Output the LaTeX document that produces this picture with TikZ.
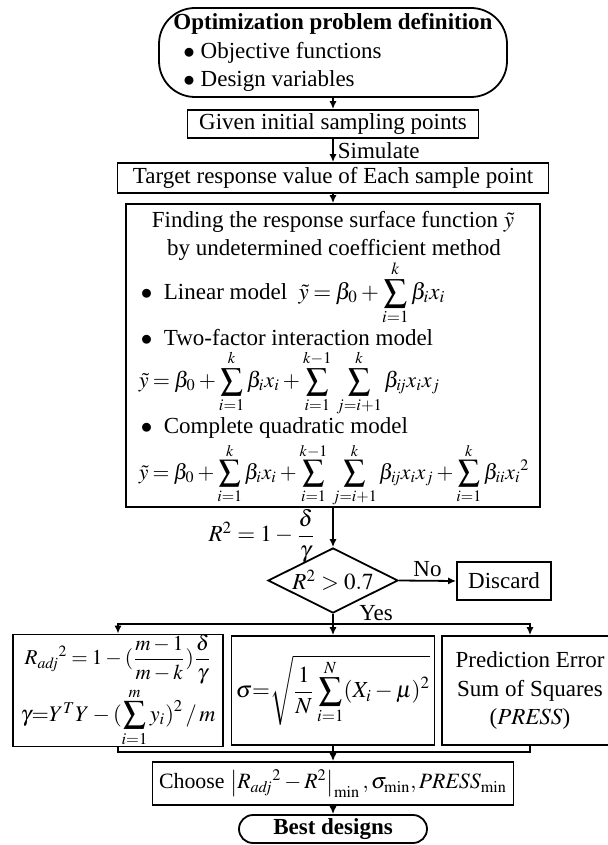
\documentclass[tikz,border=0pt]{standalone}
\usepackage{amsmath}
\usepackage{mathptmx}
\usepackage{fontspec}
\setmainfont{Liberation Serif}
\usepackage{tikz}
\usetikzlibrary{arrows.meta,shapes.geometric}

\begin{document}
\begin{tikzpicture}[x=0.5pt,y=-0.5pt,
    font=\fontsize{11.5}{14.2}\selectfont,line width=0.9pt,
    box/.style={draw,rectangle,inner sep=0pt,align=center},
    txt/.style={inner sep=0pt,anchor=west},
    mth/.style={execute at begin node={\thinmuskip=2mu\medmuskip=2.5mu\thickmuskip=3.5mu}},
    arr/.style={-{Latex[length=4pt,width=3.6pt]}}]
  \useasboundingbox (0,0) rectangle (608,845);
  \clip (0,0) rectangle (608,845);
  % problem definition and sampling
  \node[box,rounded corners=18pt,minimum width=174pt,minimum height=44.5pt,align=left]
        (opt) at (333,52.5) {\textbf{Optimization problem definition}\\
        \hspace{5pt}$\bullet$ Objective functions\\\hspace{5pt}$\bullet$ Design variables};
  \node[box,minimum width=145.5pt,minimum height=14pt] (init) at (333,124) {Given initial sampling points};
  \node[box,minimum width=215.5pt,minimum height=15pt] (target) at (333,178) {Target response value of Each sample point};
  \draw[arr] (opt.south) -- (init.north);
  \draw[arr] (init.south) -- node[right,inner sep=2pt] (sim) {Simulate} (target.north);
  % response surface models
  \node[box,minimum width=207pt,minimum height=151.5pt] (rsm) at (333,355.5) {};
  \node[inner sep=0pt] (rsmA) at (333,222) {Finding the response surface function $\tilde{y}$};
  \node[inner sep=0pt] (rsmB) at (334,250) {by undetermined coefficient method};
  \node[txt,mth] (rsmC) at (140,293) {$\bullet$\ \ Linear model\ \ $\displaystyle\tilde{y}=\beta_0+\sum_{i=1}^{k}\beta_i x_i$};
  \node[txt] (rsmD) at (140,338) {$\bullet$\ \ Two-factor interaction model};
  \node[txt,mth] (rsmE) at (138,383) {\scalebox{0.96}{$\displaystyle\tilde{y}=\beta_0+\sum_{i=1}^{k}\beta_i x_i+\sum_{i=1}^{k-1}\,\sum_{j=i+1}^{k}\beta_{\mathit{ij}}x_i x_j$}};
  \node[txt] (rsmF) at (140,428) {$\bullet$\ \ Complete quadratic model};
  \node[txt,mth] (rsmG) at (138,475) {\scalebox{0.94}{$\displaystyle\tilde{y}=\beta_0+\sum_{i=1}^{k}\beta_i x_i+\sum_{i=1}^{k-1}\,\sum_{j=i+1}^{k}\beta_{\mathit{ij}}x_i x_j+\sum_{i=1}^{k}\beta_{\mathit{ii}}x_i{}^2$}};
  \draw[arr] (target.south) -- (rsm.north);
  % R^2 check
  \node[diamond,draw,inner sep=0pt,aspect=2,minimum width=65pt,minimum height=32.5pt]
        (check) at (333,580.5) {$R^2>0.7$};
  \node[anchor=east,inner sep=0pt] (r2) at (316,536) {$R^2=1-\dfrac{\delta}{\gamma}$};
  \draw[arr] (rsm.south) -- (check.north);
  \node[box,minimum width=47pt,minimum height=19pt] (discard) at (504,581) {Discard};
  \draw[arr] (check.east) -- node[above,inner sep=1.5pt] (no) {No} (discard.west);
  % accuracy measures
  \node[box,mth,minimum width=105pt,minimum height=54.5pt] (radj) at (118,690.5)
        {\scalebox{0.92}{$R_{\mathit{adj}}{}^{2}=1-(\dfrac{m-1}{m-k})\dfrac{\delta}{\gamma}$}\\[1pt]
         \scalebox{0.97}{$\gamma{=}Y^TY-(\displaystyle\sum_{i=1}^{m}y_i)^2\,/\,m$}};
  \node[box,mth,minimum width=101.5pt,minimum height=54.5pt] (sigma) at (333,690.5)
        {$\sigma{=}\sqrt{\dfrac{1}{N}\displaystyle\sum_{i=1}^{N}(X_i-\mu)^2}$};
  \node[box,minimum width=88pt,minimum height=54.5pt] (press) at (530,690.5)
        {Prediction Error\\Sum of Squares\\($\mathit{PRESS}$)};
  \coordinate (split) at (333,624);
  \draw (check.south) -- (split);
  \node[inner sep=0pt] (yes) at (376,613) {Yes};
  \draw[arr] (split) -| (radj.north);
  \draw[arr] (split) -- (sigma.north);
  \draw[arr] (split) -| (press.north);
  % selection
  \coordinate (merge) at (333,752);
  \draw (radj.south) |- (merge) -| (press.south);
  \node[box,mth,minimum width=180.5pt,minimum height=21.5pt] (choose) at (333,783.5)
        {\scalebox{0.95}{Choose $\left|R_{\mathit{adj}}{}^{2}-R^{2}\right|_{\min},\sigma_{\min},\mathit{PRESS}_{\min}$}};
  \draw[arr] (sigma.south) -- (choose.north);
  \node[box,rounded corners=7pt,minimum width=94pt,minimum height=14pt] (best) at (333,829) {\textbf{Best designs}};
  \draw[arr] (choose.south) -- (best.north);
\end{tikzpicture}
\end{document}
